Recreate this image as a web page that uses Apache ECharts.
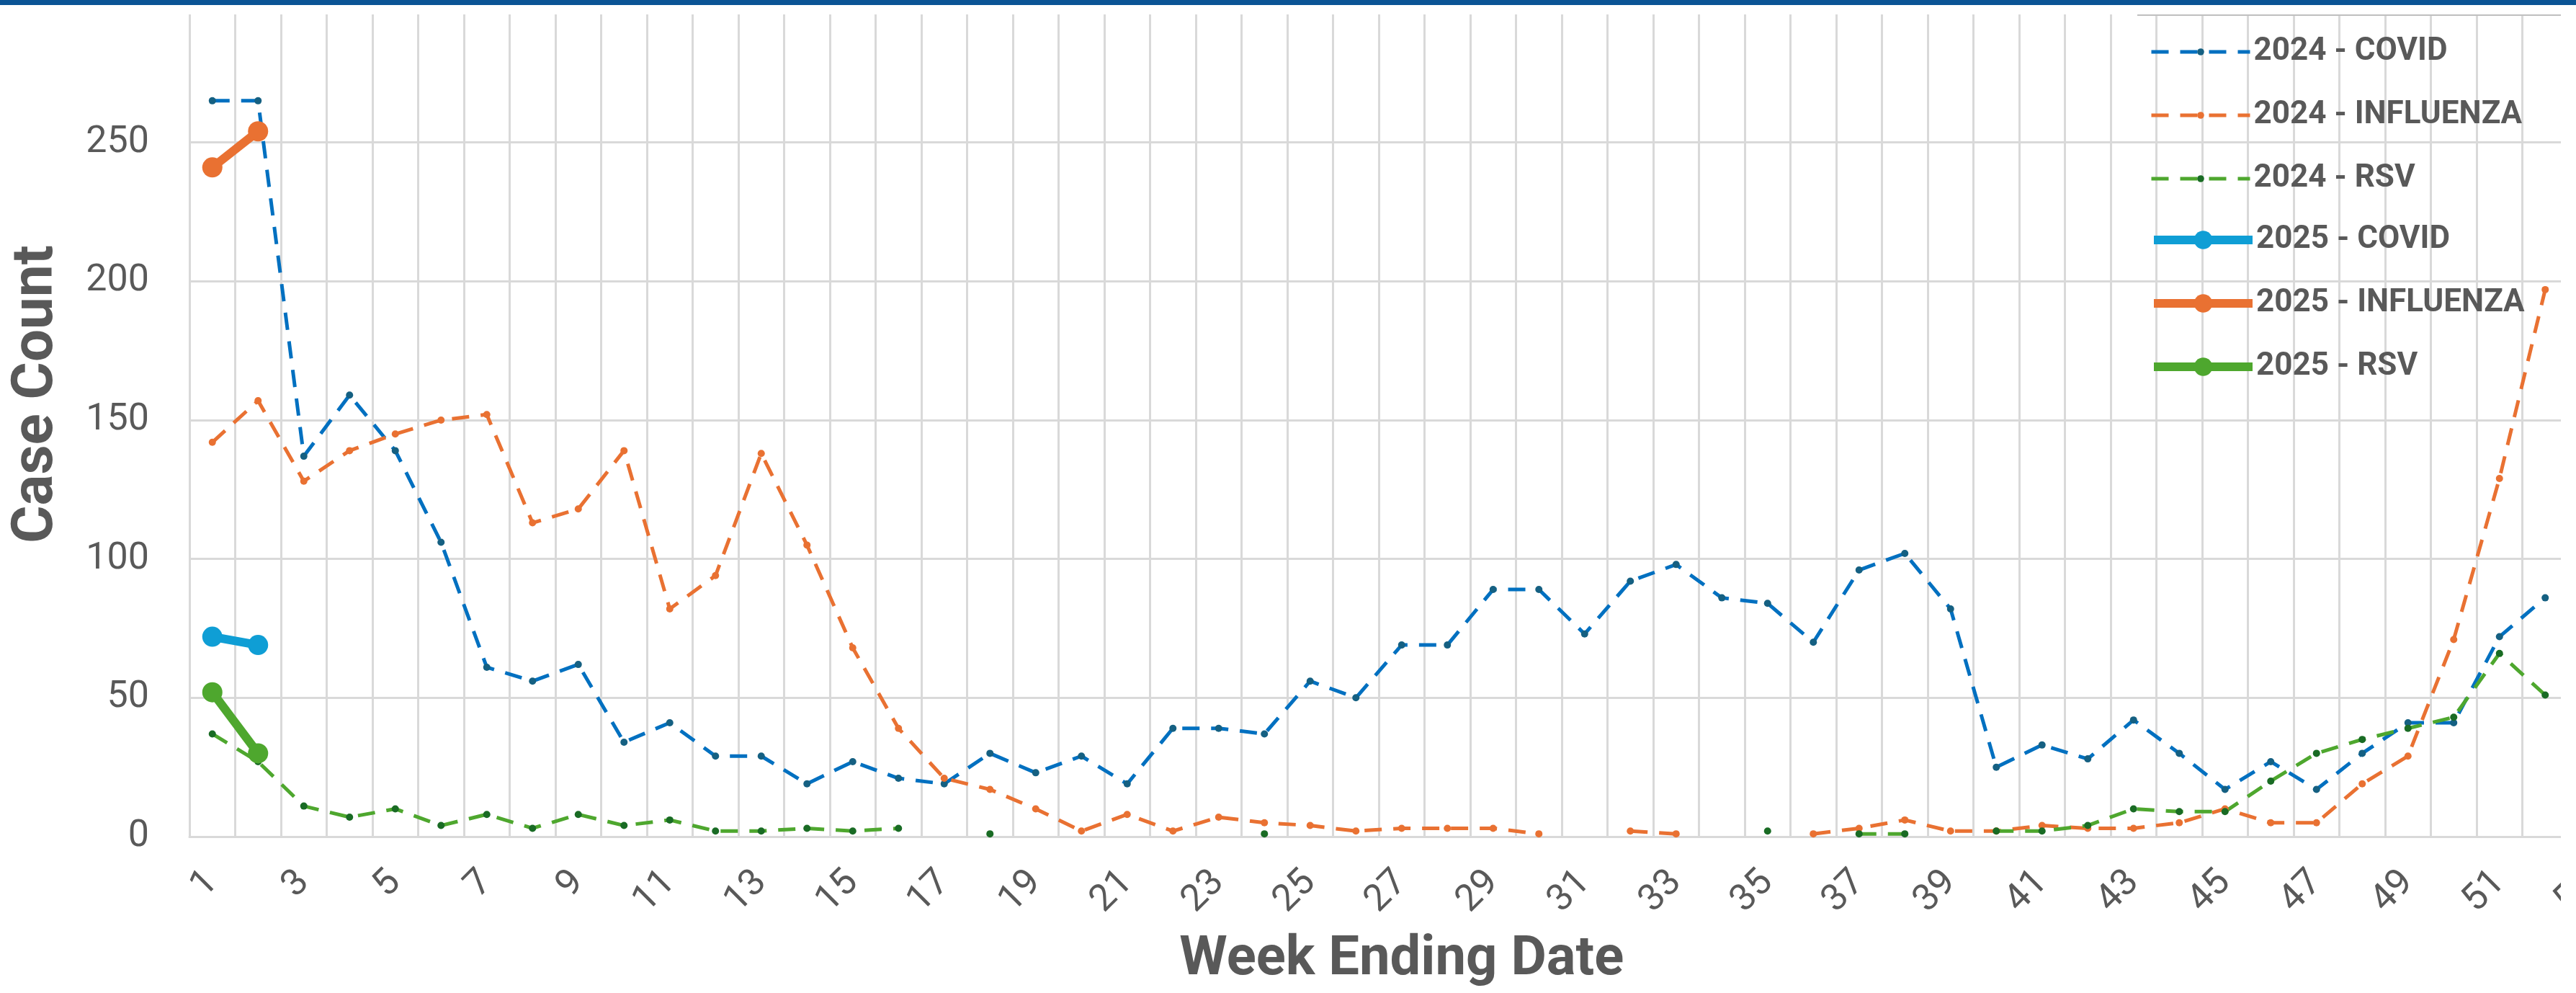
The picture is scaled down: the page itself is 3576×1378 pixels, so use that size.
<!DOCTYPE html>
<html>
<head>
<meta charset="utf-8">
<title>Weekly Case Count</title>
<script src="https://cdn.jsdelivr.net/npm/echarts@6/dist/echarts.min.js"></script>
<style>
    html, body { margin: 0; padding: 0; background: #fff; }
    #chart { width: 3576px; height: 1378px; }
</style>
</head>
<body>
<div id="chart"></div>
<script>
const weeks = ['1', '2', '3', '4', '5', '6', '7', '8', '9', '10',
    '11', '12', '13', '14', '15', '16', '17', '18', '19', '20',
    '21', '22', '23', '24', '25', '26', '27', '28', '29', '30',
    '31', '32', '33', '34', '35', '36', '37', '38', '39', '40',
    '41', '42', '43', '44', '45', '46', '47', '48', '49', '50',
    '51', '52', '53'];

// 2024 season, weeks 1-52
const covid2024 = [265, 265, 137, 159, 139, 106, 61, 56, 62, 34,
    41, 29, 29, 19, 27, 21, 19, 30, 23, 29,
    19, 39, 39, 37, 56, 50, 69, 69, 89, 89,
    73, 92, 98, 86, 84, 70, 96, 102, 82, 25,
    33, 28, 42, 30, 17, 27, 17, 30, 41, 41,
    72, 86];
const flu2024 = [142, 157, 128, 139, 145, 150, 152, 113, 118, 139,
    82, 94, 138, 105, 68, 39, 21, 17, 10, 2,
    8, 2, 7, 5, 4, 2, 3, 3, 3, 1,
    null, 2, 1, null, null, 1, 3, 6, 2, 2,
    4, 3, 3, 5, 10, 5, 5, 19, 29, 71,
    129, 197];
const rsv2024 = [37, 27, 11, 7, 10, 4, 8, 3, 8, 4,
    6, 2, 2, 3, 2, 3, null, 1, null, null,
    null, null, null, 1, null, null, null, null, null, null,
    null, null, null, null, 2, null, 1, 1, null, 2,
    2, 4, 10, 9, 9, 20, 30, 35, 39, 43,
    66, 51];

// 2025 season so far
const covid2025 = [72, 69];
const flu2025 = [241, 254];
const rsv2025 = [52, 30];

const yTicks = [0, 50, 100, 150, 200, 250, 300];

const grey = '#595959';
const gridGrey = '#D9D9D9';

function dashed(name, data, lineColor, markColor) {
    return {
        name: name,
        type: 'line',
        data: data,
        symbol: 'circle',
        symbolSize: 10,
        showAllSymbol: true,
        connectNulls: false,
        lineStyle: { color: lineColor, width: 5, type: [24, 16] },
        itemStyle: { color: markColor, borderWidth: 0 }
    };
}

function solid(name, data, color) {
    return {
        name: name,
        type: 'line',
        data: data,
        symbol: 'circle',
        symbolSize: 28,
        showAllSymbol: true,
        lineStyle: { color: color, width: 12 },
        itemStyle: { color: color, borderWidth: 0 }
    };
}

var dom = document.getElementById('chart');
var myChart = echarts.init(dom, null, { renderer: 'canvas' });

var legendText = {
    fontFamily: 'Roboto',
    fontWeight: 'bold',
    fontSize: 44,
    lineHeight: 48,
    color: grey
};
var legendLine = { width: 'inherit', type: 'inherit', color: 'inherit' };

var option = {
    animation: false,
    backgroundColor: '#fff',
    grid: {
        left: 263,
        top: 5,
        bottom: 217,
        right: -52.5,
        containLabel: false,
        outerBoundsMode: 'none'
    },
    legend: [
        {
            data: ['2024 - COVID', '2024 - INFLUENZA', '2024 - RSV'],
            orient: 'vertical',
            left: 2984,
            top: 48,
            padding: 0,
            itemWidth: 137,
            itemHeight: 12,
            itemGap: 40,
            lineStyle: legendLine,
            textStyle: legendText
        },
        {
            data: ['2025 - COVID', '2025 - INFLUENZA', '2025 - RSV'],
            orient: 'vertical',
            left: 2984,
            top: 309,
            padding: 0,
            itemWidth: 137,
            itemHeight: 32,
            itemGap: 40,
            lineStyle: legendLine,
            textStyle: legendText
        }
    ],
    xAxis: {
        type: 'category',
        data: weeks,
        boundaryGap: true,
        name: 'Week Ending Date',
        nameLocation: 'middle',
        nameGap: 134,
        nameMoveOverlap: false,
        nameTextStyle: {
            fontFamily: 'Roboto',
            fontWeight: 'bold',
            fontSize: 76,
            lineHeight: 76,
            color: grey
        },
        axisLine: { show: true, lineStyle: { color: gridGrey, width: 3 } },
        axisTick: { show: false },
        axisLabel: {
            interval: 1,
            rotate: 45,
            margin: 56,
            fontFamily: 'Roboto',
            fontSize: 52,
            color: grey,
            hideOverlap: false
        },
        splitLine: { show: true, interval: 0, lineStyle: { color: gridGrey, width: 3 } }
    },
    yAxis: {
        type: 'value',
        min: yTicks[0],
        max: yTicks[yTicks.length - 1],
        interval: yTicks[1] - yTicks[0],
        name: 'Case Count',
        nameLocation: 'middle',
        nameRotate: 90,
        nameGap: 171,
        nameMoveOverlap: false,
        nameTextStyle: {
            fontFamily: 'Roboto',
            fontWeight: 'bold',
            fontSize: 80,
            lineHeight: 80,
            color: grey,
            padding: [0, 0, 0, 72]
        },
        axisLine: { show: false },
        axisTick: { show: false },
        axisLabel: {
            margin: 56,
            fontFamily: 'Roboto',
            fontSize: 52,
            color: grey
        },
        splitLine: { show: true, lineStyle: { color: gridGrey, width: 3 } }
    },
    series: [
        dashed('2024 - COVID', covid2024, '#0070C0', '#156082'),
        dashed('2024 - INFLUENZA', flu2024, '#E97132', '#E97132'),
        dashed('2024 - RSV', rsv2024, '#4EA72E', '#196B24'),
        solid('2025 - COVID', covid2025, '#0F9ED5'),
        solid('2025 - INFLUENZA', flu2025, '#E97132'),
        solid('2025 - RSV', rsv2025, '#4EA72E')
    ],
    graphic: [
        // page trim: white band under the header bar, white strip at the right edge
        { type: 'rect', z: 100, shape: { x: 0, y: 7, width: 3576, height: 13 }, style: { fill: '#fff' } },
        { type: 'rect', z: 100, shape: { x: 3555, y: 0, width: 21, height: 1378 }, style: { fill: '#fff' } },
        { type: 'rect', z: 101, shape: { x: 0, y: 0, width: 3576, height: 7 }, style: { fill: '#0B5495' } },
        { type: 'line', z: 101, shape: { x1: 2967, y1: 21, x2: 3555, y2: 21 }, style: { stroke: '#BFBFBF', lineWidth: 2 } }
    ]
};

option && myChart.setOption(option);
</script>
</body>
</html>
